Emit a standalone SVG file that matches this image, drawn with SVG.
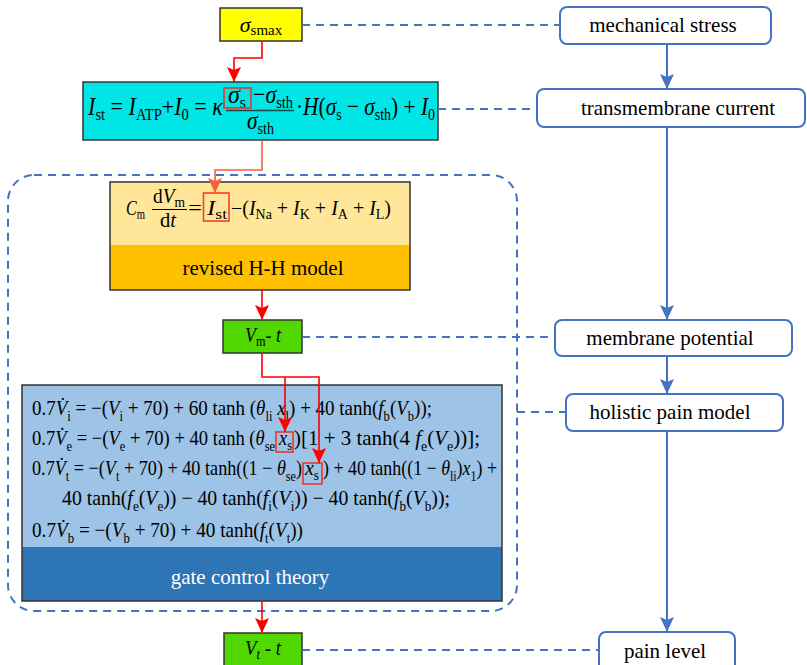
<svg xmlns="http://www.w3.org/2000/svg" width="807" height="665" viewBox="0 0 807 665" font-family="'Liberation Serif', 'Times New Roman', 'DejaVu Serif', serif">
<style>
.f{font-family:'Liberation Serif','Times New Roman','DejaVu Serif',serif;fill:#000}
.it{font-style:italic}
.lbl{font-family:'Liberation Serif','Times New Roman','DejaVu Serif',serif;font-size:21px;fill:#000;text-anchor:middle}
.rb{fill:#fff;stroke:#4472C4;stroke-width:2}
.dash{stroke:#4472C4;stroke-width:2;stroke-dasharray:8 6;fill:none}
.bl{stroke:#4472C4;stroke-width:2;fill:none}
.rl{stroke:#FF0000;stroke-width:1.6;fill:none}
.hl{fill:none;stroke:#E8382C;stroke-width:1.6}
.bx{stroke:#333;stroke-width:1.5}
</style>
<defs>
<marker id="ra" markerUnits="userSpaceOnUse" markerWidth="15" markerHeight="14" refX="15" refY="7" orient="auto" viewBox="0 0 15 14"><path d="M0,0 L15,7 L0,14 L3,7 z" fill="#FF0000"/></marker>
<marker id="ro" markerUnits="userSpaceOnUse" markerWidth="15" markerHeight="14" refX="15" refY="7" orient="auto" viewBox="0 0 15 14"><path d="M0,0 L15,7 L0,14 L3,7 z" fill="#F4603C"/></marker>
<marker id="ba" markerUnits="userSpaceOnUse" markerWidth="15" markerHeight="14" refX="15" refY="7" orient="auto" viewBox="0 0 15 14"><path d="M0,0 L15,7 L0,14 L3,7 z" fill="#4472C4"/></marker>
</defs>

<g id="frame">
<rect x="8" y="175" width="509" height="436" rx="26" class="dash"/>
</g>

<g id="sigma-smax">
<rect x="220" y="8" width="82" height="33" fill="#FFFF00" class="bx"/>
<text class="f" x="261" y="32" font-size="22" text-anchor="middle"><tspan class="it">σ</tspan><tspan font-size="15" dy="3">smax</tspan></text>
</g>

<g id="current-eq">
<rect x="83" y="82" width="355" height="58" fill="#00E5E5" class="bx"/>
<text class="f" x="88" y="115" font-size="26" textLength="135" lengthAdjust="spacingAndGlyphs"><tspan class="it">I</tspan><tspan font-size="17" dy="5">st</tspan><tspan dy="-5"> = </tspan><tspan class="it">I</tspan><tspan font-size="17" dy="5">ATP</tspan><tspan dy="-5">+</tspan><tspan class="it">I</tspan><tspan font-size="17" dy="5">0</tspan><tspan dy="-5"> = </tspan><tspan class="it">κ</tspan></text>
<text class="f" x="228" y="103" font-size="26" textLength="18" lengthAdjust="spacingAndGlyphs"><tspan class="it">σ</tspan><tspan font-size="17" dy="5">s</tspan></text>
<text class="f" x="253" y="103" font-size="26" textLength="40" lengthAdjust="spacingAndGlyphs">−<tspan class="it">σ</tspan><tspan font-size="17" dy="5">sth</tspan></text>
<line x1="226" y1="110.5" x2="294" y2="110.5" stroke="#1a4a4a" stroke-width="1.5"/>
<text class="f" x="247" y="129" font-size="26" textLength="27" lengthAdjust="spacingAndGlyphs"><tspan class="it">σ</tspan><tspan font-size="17" dy="5">sth</tspan></text>
<text class="f" x="296" y="115" font-size="26" textLength="139" lengthAdjust="spacingAndGlyphs">·<tspan class="it">H</tspan>(<tspan class="it">σ</tspan><tspan font-size="17" dy="5">s</tspan><tspan dy="-5"> − </tspan><tspan class="it">σ</tspan><tspan font-size="17" dy="5">sth</tspan><tspan dy="-5">) + </tspan><tspan class="it">I</tspan><tspan font-size="17" dy="5">0</tspan></text>
<rect x="224" y="88" width="27" height="20" class="hl"/>
</g>

<g id="hh-model">
<rect x="110" y="182" width="300" height="63" fill="#FFE699"/>
<rect x="110" y="245" width="300" height="45" fill="#FFC000"/>
<rect x="110" y="182" width="300" height="108" fill="none" class="bx"/>
<text class="f" x="126" y="215" font-size="21" textLength="19" lengthAdjust="spacingAndGlyphs"><tspan class="it">C</tspan><tspan font-size="14" dy="4">m</tspan></text>
<text class="f" x="153" y="203" font-size="20" textLength="32" lengthAdjust="spacingAndGlyphs">d<tspan class="it">V</tspan><tspan font-size="14" dy="4">m</tspan></text>
<line x1="152" y1="209.5" x2="187" y2="209.5" stroke="#000" stroke-width="1.2"/>
<text class="f" x="160" y="227" font-size="20" textLength="16" lengthAdjust="spacingAndGlyphs">d<tspan class="it">t</tspan></text>
<text class="f" x="188" y="215" font-size="20" textLength="14" lengthAdjust="spacingAndGlyphs">=</text>
<text class="f" x="207" y="215" font-size="20" textLength="20" lengthAdjust="spacingAndGlyphs"><tspan class="it">I</tspan><tspan font-size="14" dy="4">st</tspan></text>
<text class="f" x="231" y="215" font-size="20" textLength="160" lengthAdjust="spacingAndGlyphs">−(<tspan class="it">I</tspan><tspan font-size="14" dy="4">Na</tspan><tspan dy="-4"> + </tspan><tspan class="it">I</tspan><tspan font-size="14" dy="4">K</tspan><tspan dy="-4"> + </tspan><tspan class="it">I</tspan><tspan font-size="14" dy="4">A</tspan><tspan dy="-4"> + </tspan><tspan class="it">I</tspan><tspan font-size="14" dy="4">L</tspan><tspan dy="-4">)</tspan></text>
<rect x="203.5" y="193" width="25.5" height="28" fill="none" stroke="#F04030" stroke-width="1.6"/>
<text class="lbl" x="263" y="275">revised H-H model</text>
</g>

<g id="vm-t">
<rect x="223" y="320" width="79" height="33" fill="#50D800" class="bx"/>
<text class="f" x="245" y="342" font-size="22" textLength="36" lengthAdjust="spacingAndGlyphs"><tspan class="it">V</tspan><tspan font-size="15" dy="4">m</tspan><tspan dy="-4">- </tspan><tspan class="it">t</tspan></text>
</g>

<g id="pain-model">
<rect x="22" y="385" width="480" height="162" fill="#9DC3E6"/>
<rect x="22" y="547" width="480" height="54" fill="#2E75B6"/>
<rect x="22" y="385" width="480" height="216" fill="none" class="bx"/>
<text class="f" x="32" y="415" font-size="21" textLength="400" lengthAdjust="spacingAndGlyphs">0.7<tspan class="it">V̇</tspan><tspan font-size="14" dy="6">i</tspan><tspan dy="-6"> = −(</tspan><tspan class="it">V</tspan><tspan font-size="14" dy="6">i</tspan><tspan dy="-6"> + 70) + 60 tanh (</tspan><tspan class="it">θ</tspan><tspan font-size="14" dy="6">li</tspan><tspan dy="-6" class="it"> x</tspan><tspan font-size="14" dy="6">l</tspan><tspan dy="-6">) + 40 tanh(</tspan><tspan class="it">f</tspan><tspan font-size="14" dy="6">b</tspan><tspan dy="-6">(</tspan><tspan class="it">V</tspan><tspan font-size="14" dy="6">b</tspan><tspan dy="-6">));</tspan></text>
<text class="f" x="32" y="445" font-size="21" textLength="243" lengthAdjust="spacingAndGlyphs">0.7<tspan class="it">V̇</tspan><tspan font-size="14" dy="6">e</tspan><tspan dy="-6"> = −(</tspan><tspan class="it">V</tspan><tspan font-size="14" dy="6">e</tspan><tspan dy="-6"> + 70) + 40 tanh (</tspan><tspan class="it">θ</tspan><tspan font-size="14" dy="6">se</tspan></text>
<text class="f" x="279" y="445" font-size="21" textLength="13" lengthAdjust="spacingAndGlyphs"><tspan class="it">x</tspan><tspan font-size="14" dy="5">s</tspan></text>
<text class="f" x="294" y="445" font-size="21" textLength="186" lengthAdjust="spacingAndGlyphs">)[1 + 3 tanh(4 <tspan class="it">f</tspan><tspan font-size="14" dy="6">e</tspan><tspan dy="-6">(</tspan><tspan class="it">V</tspan><tspan font-size="14" dy="6">e</tspan><tspan dy="-6">))];</tspan></text>
<text class="f" x="32" y="475" font-size="21" textLength="270" lengthAdjust="spacingAndGlyphs">0.7<tspan class="it">V̇</tspan><tspan font-size="14" dy="6">t</tspan><tspan dy="-6"> = −(</tspan><tspan class="it">V</tspan><tspan font-size="14" dy="6">t</tspan><tspan dy="-6"> + 70) + 40 tanh((1 − </tspan><tspan class="it">θ</tspan><tspan font-size="14" dy="6">se</tspan><tspan dy="-6">)</tspan></text>
<text class="f" x="305" y="475" font-size="21" textLength="14" lengthAdjust="spacingAndGlyphs"><tspan class="it">x</tspan><tspan font-size="14" dy="5">s</tspan></text>
<text class="f" x="323" y="475" font-size="21" textLength="174" lengthAdjust="spacingAndGlyphs">) + 40 tanh((1 − <tspan class="it">θ</tspan><tspan font-size="14" dy="6">li</tspan><tspan dy="-6">)</tspan><tspan class="it">x</tspan><tspan font-size="14" dy="6">1</tspan><tspan dy="-6">) +</tspan></text>
<text class="f" x="62" y="505" font-size="21" textLength="388" lengthAdjust="spacingAndGlyphs">40 tanh(<tspan class="it">f</tspan><tspan font-size="14" dy="6">e</tspan><tspan dy="-6">(</tspan><tspan class="it">V</tspan><tspan font-size="14" dy="6">e</tspan><tspan dy="-6">)) − 40 tanh(</tspan><tspan class="it">f</tspan><tspan font-size="14" dy="6">i</tspan><tspan dy="-6">(</tspan><tspan class="it">V</tspan><tspan font-size="14" dy="6">i</tspan><tspan dy="-6">)) − 40 tanh(</tspan><tspan class="it">f</tspan><tspan font-size="14" dy="6">b</tspan><tspan dy="-6">(</tspan><tspan class="it">V</tspan><tspan font-size="14" dy="6">b</tspan><tspan dy="-6">));</tspan></text>
<text class="f" x="32" y="537" font-size="21" textLength="271" lengthAdjust="spacingAndGlyphs">0.7<tspan class="it">V̇</tspan><tspan font-size="14" dy="6">b</tspan><tspan dy="-6"> = −(</tspan><tspan class="it">V</tspan><tspan font-size="14" dy="6">b</tspan><tspan dy="-6"> + 70) + 40 tanh(</tspan><tspan class="it">f</tspan><tspan font-size="14" dy="6">t</tspan><tspan dy="-6">(</tspan><tspan class="it">V</tspan><tspan font-size="14" dy="6">t</tspan><tspan dy="-6">))</tspan></text>
<rect x="276" y="432" width="17" height="20" class="hl"/>
<rect x="303" y="463" width="19" height="21" class="hl"/>
<text class="lbl" x="250" y="584" style="fill:#fff">gate control theory</text>
</g>

<g id="vt-t">
<rect x="224" y="633" width="78" height="40" fill="#50D800" class="bx"/>
<text class="f" x="245" y="655" font-size="22" textLength="36" lengthAdjust="spacingAndGlyphs"><tspan class="it">V</tspan><tspan font-size="15" dy="4" class="it">t</tspan><tspan dy="-4"> - </tspan><tspan class="it">t</tspan></text>
</g>

<g id="mechanical-stress">
<rect x="560" y="7" width="211" height="37" rx="7" class="rb"/>
<text class="lbl" x="663" y="32">mechanical stress</text>
</g>
<g id="transmembrane-current">
<rect x="537" y="89" width="268" height="38" rx="7" class="rb"/>
<text class="lbl" x="678" y="115">transmembrane current</text>
</g>
<g id="membrane-potential">
<rect x="555" y="320" width="237" height="36" rx="7" class="rb"/>
<text class="lbl" x="670" y="345">membrane potential</text>
</g>
<g id="holistic-pain-model">
<rect x="566" y="394" width="217" height="37" rx="7" class="rb"/>
<text class="lbl" x="670" y="419">holistic pain model</text>
</g>
<g id="pain-level">
<rect x="599" y="632" width="136" height="44" rx="7" class="rb"/>
<text class="lbl" x="665" y="658">pain level</text>
</g>

<g id="connectors">
<polyline points="262,41 262,58 234,58 234,82" class="rl" marker-end="url(#ra)"/>
<polyline points="262,140 262,170 215,170 215,193" fill="none" stroke="#F4603C" stroke-width="1.6" marker-end="url(#ro)"/>
<line x1="262" y1="290" x2="262" y2="320" class="rl" marker-end="url(#ra)"/>
<polyline points="262,353 262,377 319,377 319,463" class="rl" marker-end="url(#ra)"/>
<polyline points="285,377 285,432" class="rl" marker-end="url(#ra)"/>
<line x1="262" y1="601" x2="262" y2="633" class="rl" marker-end="url(#ra)"/>
<line x1="667" y1="44" x2="667" y2="89" class="bl" marker-end="url(#ba)"/>
<line x1="667" y1="127" x2="667" y2="320" class="bl" marker-end="url(#ba)"/>
<line x1="667" y1="356" x2="667" y2="394" class="bl" marker-end="url(#ba)"/>
<line x1="667" y1="431" x2="667" y2="632" class="bl" marker-end="url(#ba)"/>
<line x1="302" y1="25" x2="560" y2="25" class="dash"/>
<line x1="438" y1="109" x2="537" y2="109" class="dash"/>
<line x1="302" y1="337" x2="555" y2="337" class="dash"/>
<line x1="517" y1="412" x2="566" y2="412" class="dash"/>
<line x1="302" y1="650" x2="599" y2="650" class="dash"/>
</g>
</svg>
